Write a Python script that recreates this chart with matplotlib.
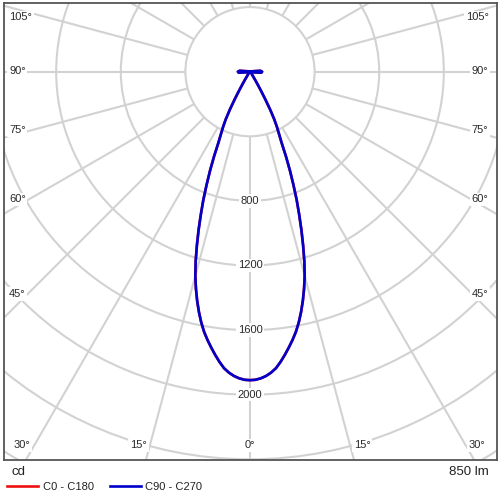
import numpy as np
import matplotlib
matplotlib.use("Agg")
import matplotlib.pyplot as plt
from matplotlib.patches import Circle

plt.rcParams['font.family'] = ['Liberation Sans', 'DejaVu Sans']

# ---- data (luminous intensity, cd, vs gamma angle) ----
gamma_deg = [0, 1, 2, 3, 4, 5, 6, 7, 8, 9,
             10, 11, 12, 13, 14, 15, 16, 17, 18, 19,
             20, 21, 22, 23, 24, 25, 26, 27, 28, 29,
             30, 31, 32, 33, 34, 35,
             40, 45, 50, 55, 60, 65, 70, 75, 80, 85, 90, 95, 100, 105,
             120, 135, 150, 165, 180]
c90_c270_cd = [1910, 1908, 1900, 1887, 1868, 1843, 1807, 1767, 1725, 1682,
               1636, 1582, 1521, 1455, 1384, 1308, 1220, 1125, 1030, 935,
               845, 750, 660, 570, 480, 425, 380, 330, 265, 195,
               135, 90, 60, 40, 30, 22,
               15, 10, 5, 5, 5, 5, 5, 5, 20, 70, 75, 65, 15, 0,
               0, 0, 0, 0, 0]
c0_c180_cd = [1910, 1908, 1900, 1887, 1868, 1843, 1807, 1767, 1725, 1682,
              1636, 1582, 1521, 1455, 1384, 1308, 1220, 1125, 1030, 935,
              845, 750, 660, 570, 480, 425, 380, 330, 265, 195,
              135, 90, 60, 40, 30, 22,
              15, 10, 5, 5, 5, 5, 5, 5, 20, 70, 75, 65, 15, 0,
              0, 0, 0, 0, 0]

ring_values = [400, 800, 1200, 1600, 2000, 2400, 2800]
ring_labels = [800, 1200, 1600, 2000]
spoke_step = 15
side_labels = ['105°', '90°', '75°', '60°', '45°']
bottom_labels = ['30°', '15°', '0°', '15°', '30°']
unit_label = 'cd'
flux_label = '850 lm'
legend_names = ['C0 - C180', 'C90 - C270']

# ---- layout ----
W, H = 500, 500
fig = plt.figure(figsize=(W / 100, H / 100), dpi=100)

def fx(x):
    return x / W

def fy(y):
    return 1 - y / H

left_px, right_px, top_px, bot_px = 4, 497, 3, 460
cx_px, cy_px = 250, 71.7
k = 400 / 64.6  # cd per pixel

ax = fig.add_axes([fx(left_px), fy(bot_px), (right_px - left_px) / W, (bot_px - top_px) / H])
ax.set_xlim((left_px - cx_px) * k, (right_px - cx_px) * k)
ax.set_ylim(-(bot_px - cy_px) * k, (cy_px - top_px) * k)
ax.set_xticks([])
ax.set_yticks([])
for s in ax.spines.values():
    s.set_color('#555555')
    s.set_linewidth(1.3)

grid_c = '#d2d2d2'
grid_lw = 1.5
for r in ring_values:
    ax.add_patch(Circle((0, 0), r, fill=False, edgecolor=grid_c, lw=grid_lw, zorder=1))
for a in range(0, 360, spoke_step):
    t = np.deg2rad(a)
    r0, r1 = ring_values[0], 4000
    ax.plot([r0 * np.sin(t), r1 * np.sin(t)], [-r0 * np.cos(t), -r1 * np.cos(t)],
            color=grid_c, lw=grid_lw, zorder=1, solid_capstyle='butt')

txt_c = '#2a2a2a'
box = dict(boxstyle='square,pad=0.15', facecolor='white', edgecolor='none')
for v in ring_labels:
    ax.text(0, -v, str(v), ha='center', va='center', fontsize=8, color=txt_c,
            bbox=box, zorder=2)

def polar_curve(g, vals):
    g = np.deg2rad(np.asarray(g, dtype=float))
    v = np.asarray(vals, dtype=float)
    xr, yr = v * np.sin(g), -v * np.cos(g)
    x = np.concatenate([-xr[::-1], xr[1:]])
    y = np.concatenate([yr[::-1], yr[1:]])
    return x, y

red = '#ee1111'
blue = '#0000cc'
x, y = polar_curve(gamma_deg, c0_c180_cd)
ax.plot(x, y, color=red, lw=1.9, zorder=3, solid_joinstyle='round')
x, y = polar_curve(gamma_deg, c90_c270_cd)
ax.plot(x, y, color=blue, lw=1.9, zorder=4, solid_joinstyle='round')

# angle labels
side_y = [17.5, 71.5, 130, 199.5, 294]
for lab, yy in zip(side_labels, side_y):
    fig.text(fx(9), fy(yy), lab, ha='left', va='center', fontsize=8, color=txt_c,
             bbox=box, zorder=5)
    fig.text(fx(488.5), fy(yy), lab, ha='right', va='center', fontsize=8, color=txt_c,
             bbox=box, zorder=5)
bottom_x = [21.5, 138.5, 250, 362, 477]
for lab, xx in zip(bottom_labels, bottom_x):
    fig.text(fx(xx), fy(445.5), lab, ha='center', va='center', fontsize=8, color=txt_c,
             bbox=box, zorder=5)

fig.text(fx(11), fy(472), unit_label, ha='left', va='center', fontsize=9.5, color='#222222')
fig.text(fx(488.5), fy(472), flux_label, ha='right', va='center', fontsize=9.5, color='#222222')

fig.add_artist(plt.Line2D([fx(7), fx(38)], [fy(486), fy(486)], color=red, lw=1.9))
fig.text(fx(43), fy(486.5), legend_names[0], ha='left', va='center', fontsize=8, color='#222222')
fig.add_artist(plt.Line2D([fx(110), fx(141)], [fy(486), fy(486)], color=blue, lw=1.9))
fig.text(fx(145), fy(486.5), legend_names[1], ha='left', va='center', fontsize=8, color='#222222')

fig.savefig('out.png', dpi=100, facecolor='white')
